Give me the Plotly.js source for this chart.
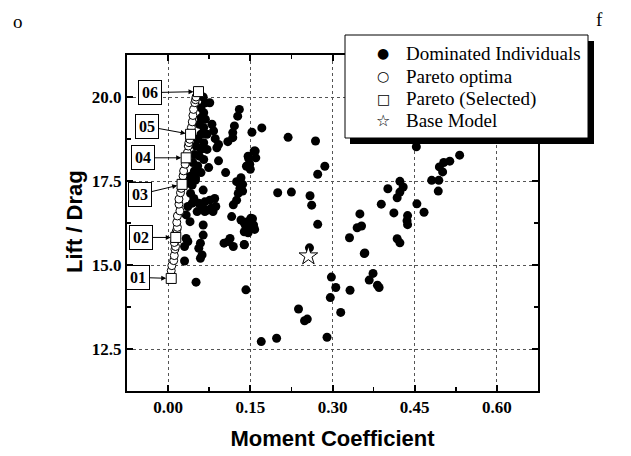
<!DOCTYPE html>
<html>
<head>
<meta charset="utf-8">
<script src="https://cdn.plot.ly/plotly-3.0.1.min.js"></script>
<style>html,body{margin:0;padding:0;background:#fff;}#chart{width:631px;height:456px;}</style>
</head>
<body>
<div id="chart"></div>
<script>
// Dominated individuals (moment coefficient, lift/drag)
const domX = [
0.064,0.068,0.060,0.065,0.060,0.068,0.057,0.065,0.060,0.071,0.054,0.065,0.051,0.060,0.071,0.048,0.057,0.065,0.045,0.054,0.048,0.060,0.042,0.050,0.074,
0.076,0.130,0.127,0.121,0.118,0.118,0.080,0.083,0.086,0.092,0.109,0.147,0.149,0.159,0.150,0.092,0.105,0.133,0.089,0.153,0.171,0.146,0.144,
0.033,0.041,0.050,0.036,0.044,0.064,0.041,0.047,0.044,0.056,0.067,0.076,0.085,0.079,0.087,0.073,0.082,0.067,0.036,0.033,0.053,0.062,0.040,0.064,
0.033,0.030,0.036,0.059,0.056,0.062,0.059,0.064,0.030,
0.125,0.133,0.131,0.128,0.125,0.119,0.116,0.133,0.145,0.151,0.156,0.151,0.142,0.139,0.102,0.110,0.113,0.119,0.139,
0.051,
0.219,0.269,0.157,0.160,0.143,0.286,0.273,0.136,0.136,0.200,0.225,0.259,0.262,0.389,
0.273,0.258,0.154,0.139,0.146,0.158,0.149,0.139,0.142,0.238,0.249,0.254,0.170,0.198,0.290,0.298,0.306,0.296,0.315,0.332,0.331,0.350,0.345,0.353,0.358,0.374,0.367,0.382,0.385,
0.532,0.514,0.503,0.495,0.501,0.481,0.494,0.493,0.453,0.454,0.467,0.423,0.429,0.401,0.423,0.418,0.412,0.437,0.436,0.437,0.418,0.423,0.359
];
const domY = [
20.00,19.83,19.68,19.53,19.38,19.34,19.19,19.09,18.89,18.89,18.74,18.64,18.54,18.44,18.44,18.29,18.24,18.14,18.05,17.95,17.80,17.75,17.65,17.60,17.90,
19.83,19.63,19.43,19.14,18.94,18.79,19.19,18.99,18.76,18.59,18.67,18.17,18.00,18.39,17.85,18.10,17.75,17.60,18.49,18.95,19.08,18.24,17.95,
17.63,17.58,17.53,17.43,17.38,17.23,17.13,16.98,16.84,16.84,16.88,16.93,16.98,16.69,16.74,16.64,16.59,16.59,16.74,16.49,16.59,16.69,16.29,16.19,
15.79,15.55,15.70,15.65,15.50,15.30,15.20,15.89,15.12,
17.48,17.38,17.28,17.13,16.93,16.79,16.44,16.34,16.29,16.39,16.19,16.09,16.14,15.99,15.65,15.70,15.79,15.55,15.60,
14.49,
18.80,18.69,18.39,18.19,17.94,17.94,17.70,17.40,17.20,17.15,17.17,17.06,16.78,16.81,
16.21,15.51,16.38,16.25,15.96,16.06,16.27,15.61,14.26,13.69,13.34,13.39,12.72,12.82,12.85,14.64,14.33,14.03,13.59,14.25,15.81,16.52,16.11,16.16,15.34,14.75,14.55,14.40,14.33,
18.27,18.09,18.05,17.92,17.77,17.52,17.52,17.20,18.52,16.82,16.57,17.49,17.32,17.27,17.17,17.00,16.55,16.47,16.32,16.20,15.78,15.66,15.36
];
// Pareto optima
const parX = [0.0057,0.0068,0.0102,0.0113,0.0125,0.0135,0.0113,0.0142,0.0160,0.0170,0.0158,0.0170,0.0215,0.0198,0.0198,0.0226,0.0240,0.0260,0.0272,0.0283,0.0311,0.0330,0.0351,0.0368,0.0380,0.0396,0.0410,0.0425,0.0441,0.0453,0.0464,0.0487,0.0500,0.0510];
const parY = [14.83,14.98,15.13,15.28,15.47,15.55,15.67,15.97,16.05,16.12,16.27,16.46,16.61,16.81,16.96,17.15,17.28,17.45,17.65,17.80,18.00,18.17,18.34,18.54,18.64,18.74,18.92,19.09,19.26,19.45,19.63,19.83,19.92,20.00];
// Selected Pareto designs
const selLabels = ['01','02','03','04','05','06'];
const selX = [0.0057,0.0140,0.0255,0.0330,0.0410,0.0555];
const selY = [14.60,15.82,17.40,18.19,18.89,20.16];
// Base model
const baseX = [0.256];
const baseY = [15.27];
// Axis ticks
const xTicks = [0.00,0.15,0.30,0.45,0.60];
const yTicks = [12.5,15.0,17.5,20.0];
// Legend entries
const seriesNames = ['Dominated Individuals','Pareto optima','Pareto (Selected)','Base Model'];
const legendGlyphs = ['\u25CF','\u25CB','\u25A1','\u2606'];
const glyphSizes = [14, 14, 14, 16];

const serif = 'Liberation Serif, Times New Roman, serif';
const sans = 'Liberation Sans, Arial, sans-serif';

const L = 127, R = 538, T = 55, B = 391;
const W = 631, H = 456;
const px = v => (v - L) / (R - L);
const py = v => (B - v) / (B - T);

const traces = [
  {x: domX, y: domY, type: 'scatter', mode: 'markers', name: seriesNames[0],
   marker: {symbol: 'circle', size: 9, color: '#000'}},
  {x: parX, y: parY, type: 'scatter', mode: 'markers', name: seriesNames[1],
   marker: {symbol: 'circle', size: 8, color: '#fff', line: {color: '#000', width: 1}}},
  {x: selX, y: selY, type: 'scatter', mode: 'markers', name: seriesNames[2],
   marker: {symbol: 'square', size: 10, color: '#fff', line: {color: '#000', width: 1}}},
  {x: baseX, y: baseY, type: 'scatter', mode: 'markers', name: seriesNames[3],
   marker: {symbol: 'star', size: 14, color: '#fff', line: {color: '#000', width: 1}}}
];

const offsets = [[-33,-1],[-35,0],[-42,10],[-43,0],[-44,-8],[-49,1]];
const annotations = selLabels.map((t, i) => ({
  x: selX[i], y: selY[i], xref: 'x', yref: 'y', text: t,
  showarrow: true, ax: offsets[i][0], ay: offsets[i][1],
  arrowhead: 2, arrowsize: 1, arrowwidth: 1, arrowcolor: '#000', standoff: 5,
  font: {family: serif, size: 16, color: '#000', weight: 'bold'},
  bgcolor: '#fff', bordercolor: '#000', borderwidth: 1, borderpad: 3
}));
annotations.push({x: px(18), y: py(22), xref: 'paper', yref: 'paper', text: 'o', showarrow: false,
  xanchor: 'center', yanchor: 'middle', font: {family: serif, size: 19, color: '#000'}});
annotations.push({x: px(599), y: py(20), xref: 'paper', yref: 'paper', text: 'f', showarrow: false,
  xanchor: 'center', yanchor: 'middle', font: {family: serif, size: 19, color: '#000'}});
// y axis title
annotations.push({x: px(74), y: py(222), xref: 'paper', yref: 'paper', text: 'Lift / Drag', showarrow: false,
  textangle: -90, xanchor: 'center', yanchor: 'middle',
  font: {family: sans, size: 22, color: '#000', weight: 'bold'}});
// legend
const rowY = [53, 76, 98.5, 121];
seriesNames.forEach((n, i) => {
  annotations.push({x: px(404), y: py(rowY[i]), xref: 'paper', yref: 'paper', text: n, showarrow: false,
    xanchor: 'left', yanchor: 'middle', font: {family: serif, size: 19, color: '#000'}});
  annotations.push({x: px(383), y: py(rowY[i]), xref: 'paper', yref: 'paper', text: legendGlyphs[i], showarrow: false,
    xanchor: 'center', yanchor: 'middle', font: {family: 'DejaVu Sans', size: glyphSizes[i], color: '#000'}});
});

const shapes = [
  {type: 'rect', xref: 'paper', yref: 'paper', x0: px(350), x1: px(594), y0: py(41), y1: py(144),
   fillcolor: '#000', line: {width: 0}, layer: 'above'},
  {type: 'rect', xref: 'paper', yref: 'paper', x0: px(345), x1: px(588), y0: py(35), y1: py(138),
   fillcolor: '#fff', line: {color: '#000', width: 1}, layer: 'above'}
];

const axisCommon = {
  showline: true, linecolor: '#000', linewidth: 2, mirror: 'ticks',
  ticks: 'inside', ticklen: 6, tickwidth: 2, tickcolor: '#000',
  showgrid: true, gridcolor: '#555', gridwidth: 1, griddash: '3px,3px',
  zeroline: false,
  tickfont: {family: serif, size: 17, color: '#000', weight: 'bold'}
};

const layout = {
  width: W, height: H,
  margin: {l: L, r: W - R, t: T, b: H - B, pad: 0},
  paper_bgcolor: '#fff', plot_bgcolor: '#fff',
  showlegend: false,
  xaxis: Object.assign({}, axisCommon, {
    range: [-0.075, 0.675], tickvals: xTicks, tickformat: '.2f',
    minor: {dtick: 0.075, tick0: 0, ticks: 'inside', ticklen: 4, tickwidth: 1.5, tickcolor: '#000', showgrid: false},
    title: {text: 'Moment Coefficient', font: {family: sans, size: 22, color: '#000', weight: 'bold'}, standoff: 14}
  }),
  yaxis: Object.assign({}, axisCommon, {
    range: [11.25, 21.25], tickvals: yTicks, tickformat: '.1f',
    minor: {dtick: 1.25, tick0: 0, ticks: 'inside', ticklen: 4, tickwidth: 1.5, tickcolor: '#000', showgrid: false}
  }),
  annotations: annotations,
  shapes: shapes
};

Plotly.newPlot('chart', traces, layout, {displayModeBar: false, staticPlot: true});
</script>
</body>
</html>
